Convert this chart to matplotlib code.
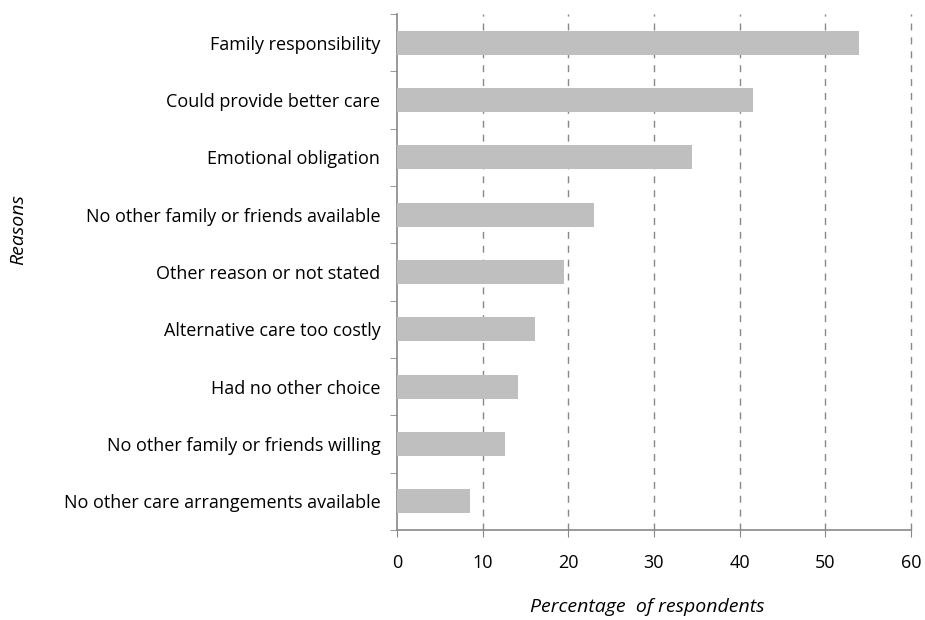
import matplotlib
matplotlib.use("Agg")
import matplotlib.pyplot as plt
import numpy as np

categories = [
    "Family responsibility",
    "Could provide better care",
    "Emotional obligation",
    "No other family or friends available",
    "Other reason or not stated",
    "Alternative care too costly",
    "Had no other choice",
    "No other family or friends willing",
    "No other care arrangements available",
]
values = [53.9, 41.6, 34.4, 23.0, 19.5, 16.1, 14.1, 12.6, 8.5]
xticks = [0, 10, 20, 30, 40, 50, 60]

plt.rcParams['font.family'] = ['Open Sans', 'DejaVu Sans']

fig = plt.figure(figsize=(9.25, 6.2), dpi=100)
ax = fig.add_axes([397/925, 1-530/620, (911-397)/925, (530-14)/620])

n = len(categories)
y = np.arange(n)[::-1]
ax.barh(y, values, height=0.42, color='#bfbfbf', zorder=3)
ax.set_xlim(0, 60)
ax.set_ylim(-0.5, n-0.5)

ax.set_xticks(xticks)
ax.set_xticklabels([str(t) for t in xticks], fontsize=13)
ax.set_yticks(y)
ax.set_yticklabels(categories, fontsize=13)
ax.tick_params(axis='y', length=0, pad=12)
ax.set_yticks(np.arange(-0.5, n, 1.0), minor=True)
ax.tick_params(axis='y', which='minor', length=5, color='#888888', direction='out')
ax.tick_params(axis='x', length=5, color='#888888', direction='out', pad=12)

for s in ['top', 'right']:
    ax.spines[s].set_visible(False)
for s in ['left', 'bottom']:
    ax.spines[s].set_color('#888888')
    ax.spines[s].set_linewidth(1.2)

for t in xticks[1:]:
    ax.axvline(t, color='#888888', linestyle=(0, (5, 5)), linewidth=1.0, zorder=1, clip_on=False)

fig.text(647/925, 1-607/620, "Percentage  of respondents", ha='center', va='center',
         fontsize=14, style='italic')
fig.text(18/925, 1-230/620, "Reasons", ha='center', va='center', rotation=90,
         fontsize=14, style='italic')

fig.savefig("out.png", dpi=100)
